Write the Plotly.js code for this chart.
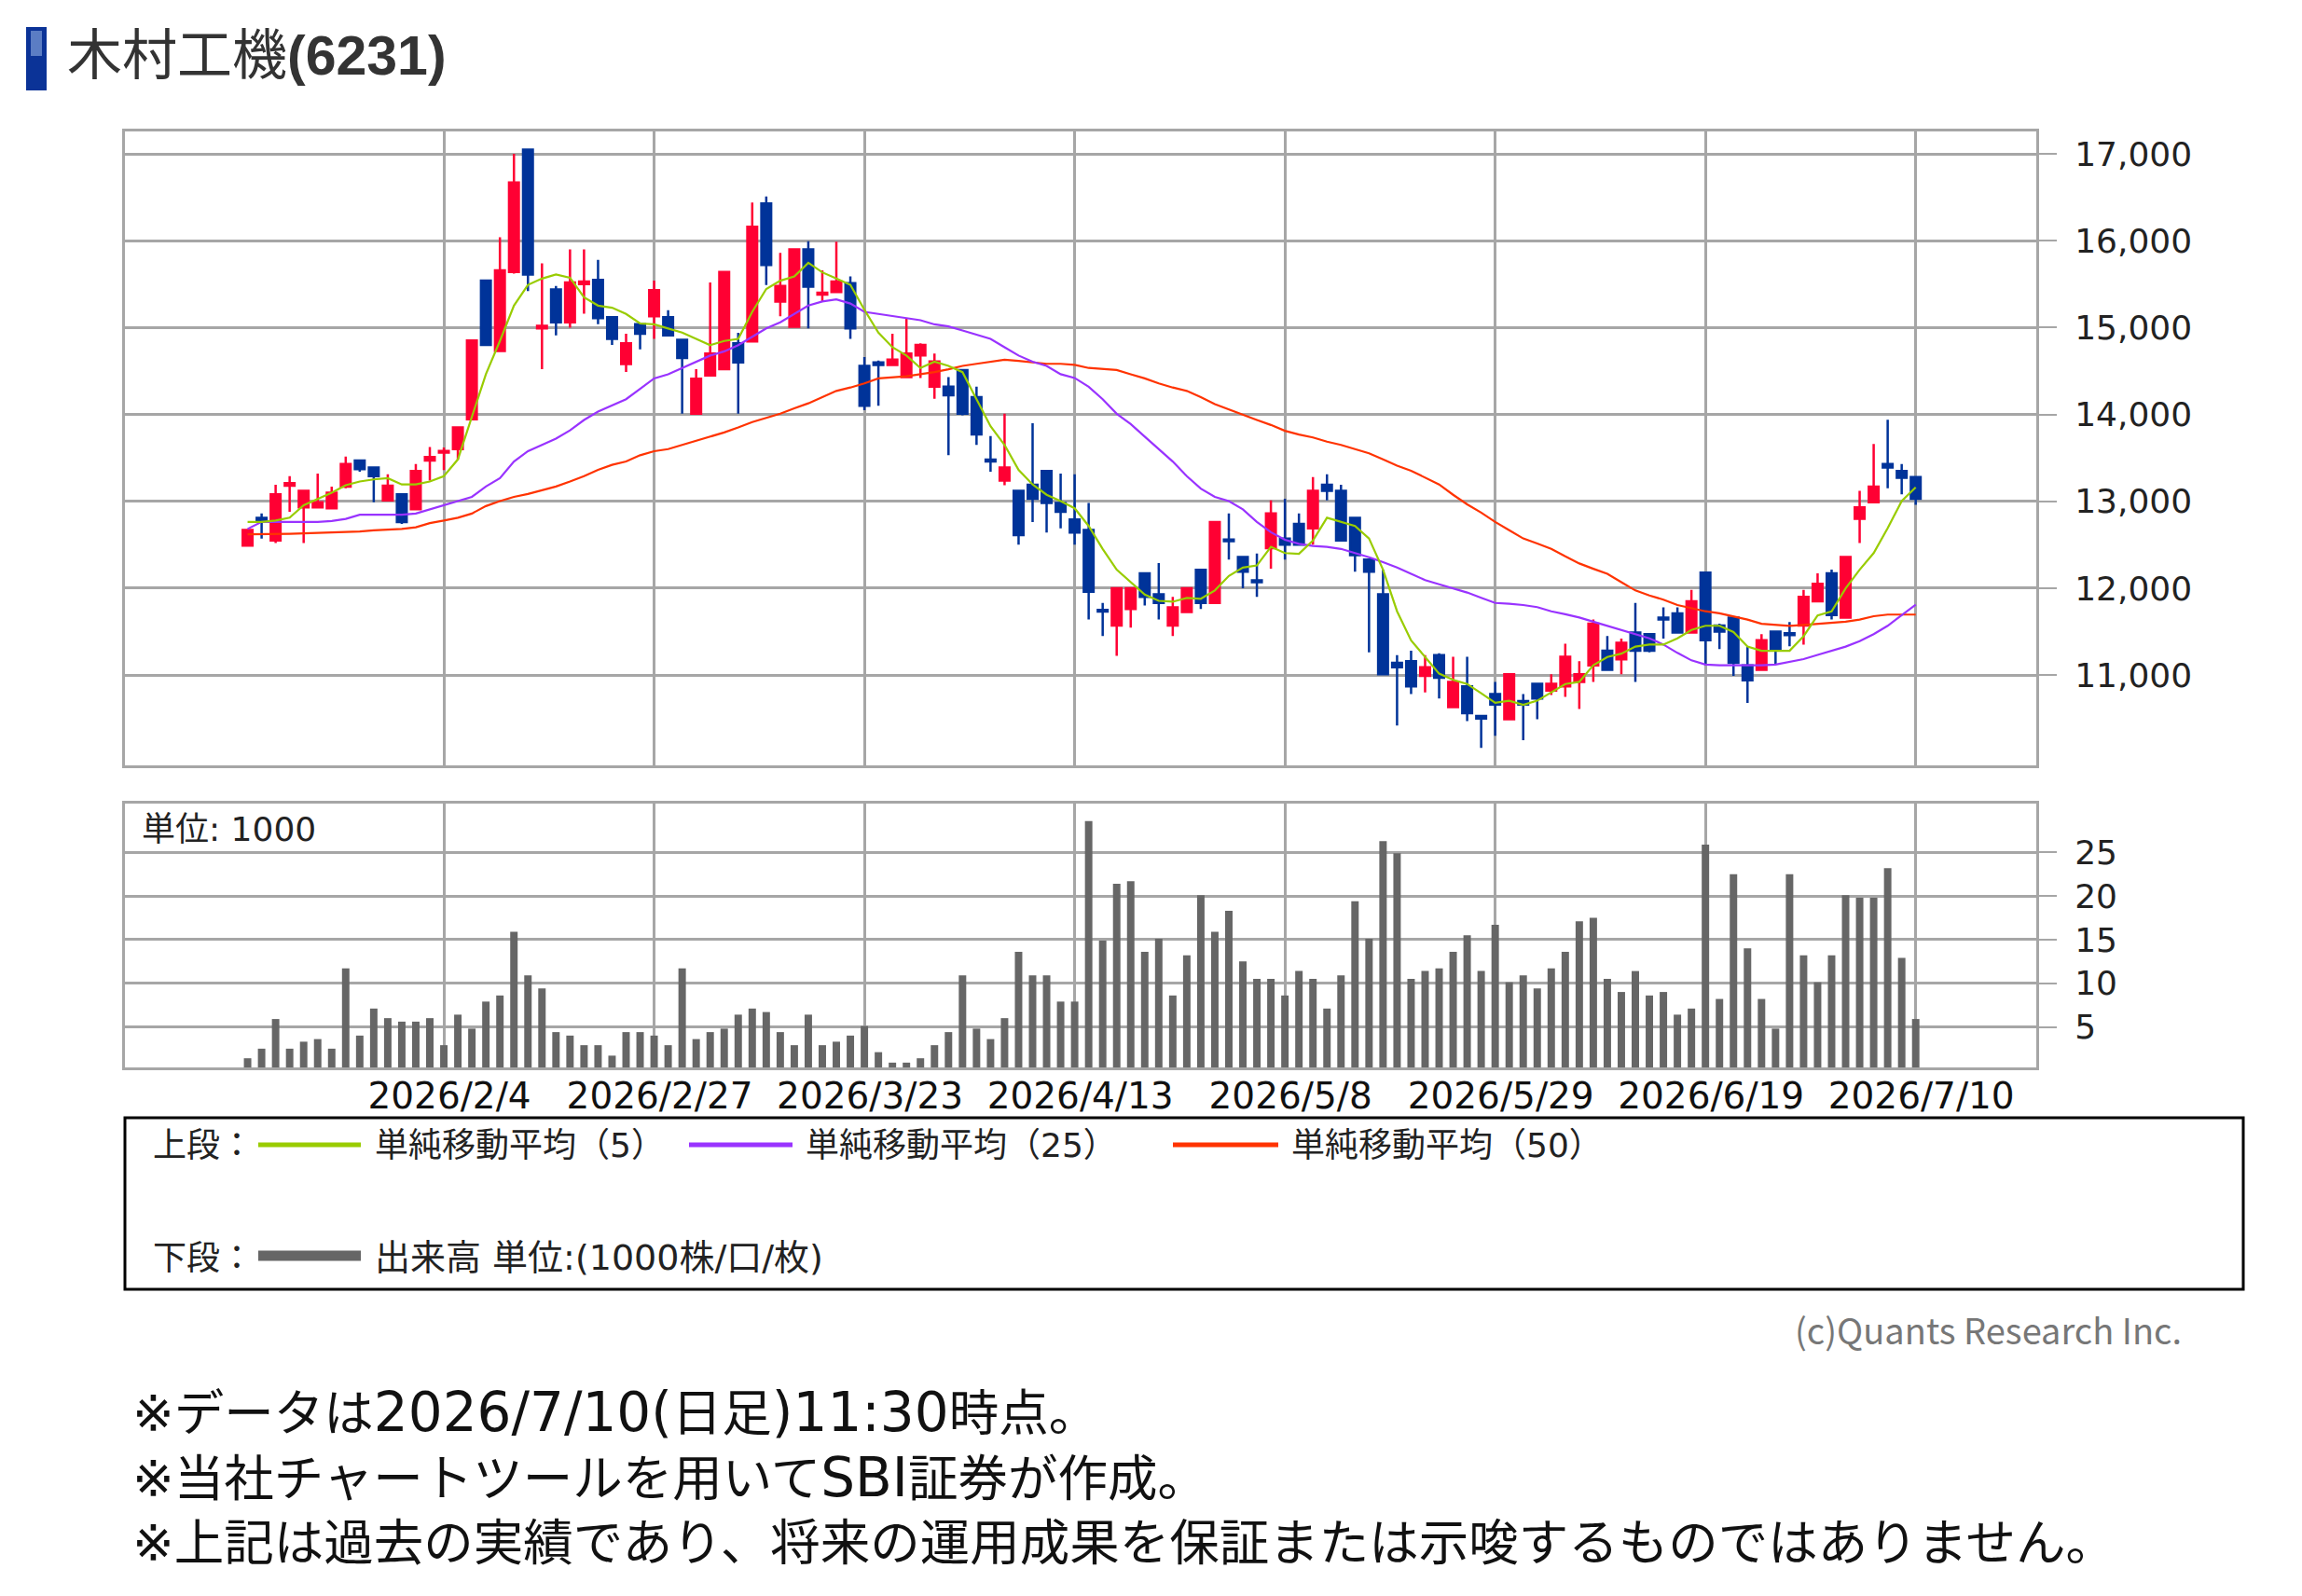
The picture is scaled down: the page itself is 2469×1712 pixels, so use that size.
<!DOCTYPE html>
<html><head><meta charset="utf-8">
<script src="https://cdn.plot.ly/plotly-3.0.1.min.js"></script>
<style>html,body{margin:0;padding:0;background:#fff;}#chart{width:2469px;height:1712px;}</style>
</head><body><div id="chart"></div>
<script>
// ---- data ----
const dates = [
'2026-01-15','2026-01-16','2026-01-19','2026-01-20','2026-01-21','2026-01-22','2026-01-23','2026-01-26','2026-01-27','2026-01-28',
'2026-01-29','2026-01-30','2026-02-02','2026-02-03','2026-02-04','2026-02-05','2026-02-06','2026-02-09','2026-02-10','2026-02-12',
'2026-02-13','2026-02-16','2026-02-17','2026-02-18','2026-02-19','2026-02-20','2026-02-24','2026-02-25','2026-02-26','2026-02-27',
'2026-03-02','2026-03-03','2026-03-04','2026-03-05','2026-03-06','2026-03-09','2026-03-10','2026-03-11','2026-03-12','2026-03-13',
'2026-03-16','2026-03-17','2026-03-18','2026-03-19','2026-03-23','2026-03-24','2026-03-25','2026-03-26','2026-03-27','2026-03-30',
'2026-03-31','2026-04-01','2026-04-02','2026-04-03','2026-04-06','2026-04-07','2026-04-08','2026-04-09','2026-04-10','2026-04-13',
'2026-04-14','2026-04-15','2026-04-16','2026-04-17','2026-04-20','2026-04-21','2026-04-22','2026-04-23','2026-04-24','2026-04-27',
'2026-04-28','2026-04-30','2026-05-01','2026-05-07','2026-05-08','2026-05-11','2026-05-12','2026-05-13','2026-05-14','2026-05-15',
'2026-05-18','2026-05-19','2026-05-20','2026-05-21','2026-05-22','2026-05-25','2026-05-26','2026-05-27','2026-05-28','2026-05-29',
'2026-06-01','2026-06-02','2026-06-03','2026-06-04','2026-06-05','2026-06-08','2026-06-09','2026-06-10','2026-06-11','2026-06-12',
'2026-06-15','2026-06-16','2026-06-17','2026-06-18','2026-06-19','2026-06-22','2026-06-23','2026-06-24','2026-06-25','2026-06-26',
'2026-06-29','2026-06-30','2026-07-01','2026-07-02','2026-07-03','2026-07-06','2026-07-07','2026-07-08','2026-07-09','2026-07-10'];

const openP = [
12490,12810,12550,13180,12930,12930,12920,13170,13470,13390,13010,13080,12910,13470,13560,13600,13945,15540,14730,15640,
17050,14990,15440,15060,15500,15550,15120,14580,15040,15130,15120,14860,14010,14450,14520,14820,14840,16430,15300,15010,
15900,15380,15410,15510,14560,14600,14570,14430,14680,14320,14320,14510,14200,13480,13240,13120,13190,13350,12980,12790,
12670,11750,11570,11760,12170,11930,11570,11725,12210,11830,12560,12360,12090,12460,12570,12740,12690,13190,13120,12810,
12330,11930,11140,11160,10990,11230,10630,10870,10530,10780,10490,10700,10900,10820,10870,10920,11110,11280,11180,11490,
11470,11660,11710,11490,12180,11570,11660,11110,11060,11500,11480,11570,11850,12170,11660,12800,12990,13430,13350,13280];
const highP = [
12680,12860,13190,13290,13130,13320,13170,13515,13470,13390,13310,13090,13430,13625,13620,13860,14860,15540,16040,17000,
17050,15740,15480,15900,15900,15780,15130,14930,15050,15540,15200,14860,14520,15520,15640,14940,16440,16510,15860,15900,
15995,15660,15990,15590,14660,14620,14930,15110,14820,14700,14430,14520,14320,13750,14010,13125,13900,13360,13320,13310,
12980,11830,12000,12010,12170,12290,11900,12010,12210,12770,12860,12360,12400,13010,13030,12860,13280,13310,13190,12820,
12340,12210,11230,11280,11230,11250,11210,11210,10540,10920,11020,10780,10900,11010,11360,11160,11640,11450,11420,11830,
11480,11780,11780,11980,12190,11590,11670,11330,11470,11510,11610,11980,12170,12215,12360,13120,13660,13940,13430,13290];
const lowP = [
12480,12570,12520,12880,12520,12920,12910,13150,13340,12990,13000,12740,12900,13240,13360,13480,13940,14800,14720,15620,
15420,14520,14910,15000,15160,15040,14800,14490,14750,14870,14900,14010,14000,14440,14520,14010,14830,15490,15130,15010,
14990,15300,15400,14870,14050,14100,14560,14420,14420,14180,13530,13990,13650,13340,13185,12500,12760,12640,12690,12500,
11640,11450,11220,11545,11800,11640,11450,11720,11760,11820,12330,12000,11900,12225,12330,12490,12500,13010,12540,12190,
11260,11000,10420,10780,10800,10730,10620,10470,10160,10300,10480,10250,10490,10770,10750,10610,10920,11060,11010,10920,
11260,11420,11490,11490,11110,11300,10990,10680,11050,11130,11330,11350,11850,11640,11660,12520,12980,13150,13080,12960];
const closeP = [
12670,12770,13080,13210,13120,12990,13100,13430,13370,13290,13180,12760,13350,13510,13580,13850,14850,14800,15660,16670,
15610,15020,15060,15520,15530,15110,14870,14820,14930,15430,14910,14650,14410,14700,15640,14600,16160,15720,15480,15900,
15470,15400,15530,14990,14100,14570,14630,14700,14800,14610,14220,14010,13770,13460,13390,12610,13030,12980,12880,12640,
11960,11730,12000,12000,11900,11830,11780,12000,11830,12760,12540,12190,12070,12860,12500,12500,13120,13120,12550,12380,
12190,11010,11090,10870,11090,10970,10920,10560,10500,10660,11010,10660,10730,10900,11210,11010,11590,11060,11370,11280,
11280,11640,11490,11850,11400,11500,11140,10940,11400,11300,11460,11900,12050,11690,12360,12930,13170,13390,13270,13030];

const ma5 = [
12763,12763,12778,12811,12955,13027,13099,13185,13228,13252,13266,13194,13194,13228,13290,13482,13984,14463,14846,15253,
15492,15564,15612,15574,15349,15253,15229,15157,15047,15037,14989,14942,14870,14798,14846,14870,15181,15444,15540,15588,
15746,15636,15564,15492,15205,14942,14774,14678,14535,14607,14559,14487,14176,13865,13649,13362,13194,13075,13003,12920,
12716,12452,12213,12069,11926,11854,11844,11887,11878,11974,12141,12237,12261,12476,12404,12395,12548,12811,12763,12716,
12572,12213,11734,11399,11208,11016,10945,10897,10790,10681,10705,10657,10705,10801,10897,10921,11112,11208,11246,11327,
11351,11351,11423,11519,11567,11567,11495,11327,11279,11279,11279,11447,11686,11734,11998,12213,12404,12691,13003,13161];
const ma25 = [
12682,12763,12763,12763,12763,12763,12773,12797,12845,12845,12845,12845,12859,12907,12955,13003,13051,13170,13266,13458,
13577,13649,13721,13817,13936,14032,14104,14176,14295,14415,14463,14535,14607,14678,14726,14798,14894,14990,15061,15157,
15253,15301,15325,15277,15181,15157,15133,15109,15085,15037,15013,14966,14918,14870,14774,14678,14607,14559,14463,14420,
14319,14176,14008,13889,13745,13601,13458,13290,13146,13051,13003,12907,12763,12644,12557,12510,12486,12476,12452,12404,
12356,12299,12237,12165,12093,12045,11998,11950,11890,11830,11820,11806,11782,11734,11700,11662,11614,11566,11518,11470,
11423,11351,11255,11169,11121,11112,11112,11112,11112,11121,11150,11183,11231,11279,11327,11390,11471,11567,11686,11810];
const ma50 = [
12620,12620,12620,12625,12630,12635,12640,12644,12653,12665,12675,12682,12701,12749,12778,12811,12859,12945,13003,13051,
13084,13123,13170,13228,13290,13362,13420,13458,13530,13577,13601,13649,13697,13745,13793,13850,13912,13960,14008,14070,
14128,14200,14271,14310,14358,14415,14425,14439,14463,14487,14520,14559,14583,14607,14630,14616,14597,14583,14583,14570,
14535,14520,14511,14463,14415,14358,14310,14271,14200,14119,14056,13994,13936,13879,13812,13769,13735,13687,13649,13601,
13553,13482,13410,13352,13276,13194,13075,12965,12870,12763,12668,12572,12514,12452,12366,12285,12223,12165,12069,11974,
11916,11868,11806,11773,11734,11710,11677,11638,11590,11580,11566,11576,11590,11600,11614,11638,11677,11696,11696,11696];

const volume = [
1.4,2.5,5.9,2.5,3.3,3.6,2.5,11.7,4.0,7.1,6.0,5.6,5.6,6.0,2.9,6.4,4.8,7.9,8.6,15.9,
10.9,9.4,4.4,4.0,2.9,2.9,1.7,4.4,4.4,4.0,2.9,11.7,3.6,4.4,4.8,6.4,7.1,6.7,4.4,2.9,
6.4,2.9,3.3,4.0,5.1,2.1,0.9,0.9,1.4,2.9,4.4,10.9,4.8,3.6,6.0,13.6,10.9,10.9,7.9,7.9,
28.6,14.9,21.4,21.7,13.6,15.1,8.6,13.2,20.1,15.9,18.3,12.5,10.5,10.5,8.6,11.4,10.5,7.1,10.9,19.4,
15.1,26.3,24.9,10.5,11.4,11.7,13.6,15.5,11.4,16.7,10.1,10.9,9.4,11.7,13.6,17.1,17.5,10.5,9.0,11.4,
8.6,9.0,6.4,7.1,25.9,8.2,22.5,14.0,8.2,4.8,22.5,13.2,10.1,13.2,20.1,19.8,19.8,23.2,12.9,5.9];

const tickDates = ['2026-02-04','2026-02-27','2026-03-23','2026-04-13','2026-05-08','2026-05-29','2026-06-19','2026-07-10'];
const tickLabels = ['2026/2/4','2026/2/27','2026/3/23','2026/4/13','2026/5/8','2026/5/29','2026/6/19','2026/7/10'];
const priceTicks = [11000,12000,13000,14000,15000,16000,17000];
const volTicks = [5,10,15,20,25];

const footnotes = [
  '※データは2026/7/10(日足)11:30時点。',
  '※当社チャートツールを用いてSBI証券が作成。',
  '※上記は過去の実績であり、将来の運用成果を保証または示唆するものではありません。'
];

// ---- layout helpers ----
const W = 2469, H = 1712;
const px = x => x / W;
const py = y => 1 - y / H;

const GRID = '#a6a6a6';
const xDomain = [px(134), px(2184)];
const xRange = [-8.75, 127.6];

const traces = [
  {type:'candlestick', x:dates, open:openP, high:highP, low:lowP, close:closeP,
   xaxis:'x', yaxis:'y', whiskerwidth:0, hoverinfo:'none',
   increasing:{line:{color:'#ff0033', width:2.5}, fillcolor:'#ff0033'},
   decreasing:{line:{color:'#003399', width:2.5}, fillcolor:'#003399'}},
  {type:'scatter', mode:'lines', x:dates, y:ma50, xaxis:'x', yaxis:'y', line:{color:'#ff3300', width:2.2}, hoverinfo:'skip'},
  {type:'scatter', mode:'lines', x:dates, y:ma25, xaxis:'x', yaxis:'y', line:{color:'#9933ff', width:2.2}, hoverinfo:'skip'},
  {type:'scatter', mode:'lines', x:dates, y:ma5, xaxis:'x', yaxis:'y', line:{color:'#99cc00', width:2.2}, hoverinfo:'skip'},
  {type:'bar', x:dates, y:volume, xaxis:'x2', yaxis:'y2', marker:{color:'#666666', line:{width:0}}, hoverinfo:'skip'}
];

const axisCommonX = {
  type:'category', domain:xDomain, range:xRange, tickvals:tickDates,
  showgrid:true, gridcolor:GRID, gridwidth:3, zeroline:false,
  showline:true, mirror:true, linecolor:GRID, linewidth:3, ticks:'', ticklen:0, fixedrange:true
};
const axisCommonY = {
  side:'right', showgrid:true, gridcolor:GRID, gridwidth:3, zeroline:false,
  showline:true, mirror:true, linecolor:GRID, linewidth:3,
  ticks:'outside', ticklen:19, tickwidth:2, tickcolor:GRID,
  tickfont:{family:'DejaVu Sans', size:36, color:'#222'}, ticklabelstandoff:12, fixedrange:true
};

const legendFont = {family:'DejaVu Sans, Noto Sans CJK JP', size:36, color:'#222'};
const ann = (x, y, text, font, xanchor) => ({xref:'paper', yref:'paper', x:px(x), y:py(y), text, font, xanchor:xanchor||'left', yanchor:'middle', showarrow:false});

// Latin runs in the footnotes are drawn a little larger, as in the reference
const footText = footnotes.map(s => s.replace(/[\x20-\x7E]+/g, m => '<span style="font-size:58px">' + m + '</span>')).join('<br>');
const footAnn = ann(140, 1584, footText, {family:'DejaVu Sans, Noto Sans CJK JP', size:53.5, color:'#111'});
footAnn.align = 'left';

const layout = {
  width:W, height:H, margin:{l:0,r:0,t:0,b:0}, paper_bgcolor:'#fff', plot_bgcolor:'#fff',
  showlegend:false, boxgap:0.3, boxgroupgap:0, bargap:0.47,
  xaxis: Object.assign({}, axisCommonX, {anchor:'y', showticklabels:false, rangeslider:{visible:false}}),
  yaxis: Object.assign({}, axisCommonY, {anchor:'x', domain:[py(821), py(141)], range:[9960, 17258], tickvals:priceTicks, tickformat:',d'}),
  xaxis2: Object.assign({}, axisCommonX, {anchor:'y2', ticktext:tickLabels, showticklabels:true,
    tickfont:{family:'DejaVu Sans', size:39, color:'#111'}, ticklabelstandoff:-6, ticklabelshift:6, rangeslider:{visible:false}}),
  yaxis2: Object.assign({}, axisCommonY, {anchor:'x2', domain:[py(1145), py(862)], range:[0.35, 30.6], tickvals:volTicks}),
  shapes:[
    {type:'rect', xref:'paper', yref:'paper', x0:px(28), x1:px(50), y0:py(97), y1:py(29), fillcolor:'#0b3397', line:{width:0}},
    {type:'rect', xref:'paper', yref:'paper', x0:px(33), x1:px(45), y0:py(60), y1:py(33), fillcolor:'#5b7dc4', line:{width:0}},
    {type:'rect', xref:'paper', yref:'paper', x0:px(134), x1:px(2406), y0:py(1383), y1:py(1199), line:{color:'#000', width:3}},
    {type:'line', xref:'paper', yref:'paper', x0:px(277), x1:px(387), y0:py(1228), y1:py(1228), line:{color:'#99cc00', width:5}},
    {type:'line', xref:'paper', yref:'paper', x0:px(739), x1:px(850), y0:py(1228), y1:py(1228), line:{color:'#9933ff', width:5}},
    {type:'line', xref:'paper', yref:'paper', x0:px(1258), x1:px(1371), y0:py(1228), y1:py(1228), line:{color:'#ff3300', width:5}},
    {type:'line', xref:'paper', yref:'paper', x0:px(277), x1:px(387), y0:py(1347), y1:py(1347), line:{color:'#666666', width:11}}
  ],
  annotations:[
    ann(70, 60, '木村工機<b>(6231)</b>', {family:'Liberation Sans, Noto Sans CJK JP', size:59, color:'#333'}),
    ann(150, 890, '単位: 1000', {family:'DejaVu Sans, Noto Sans CJK JP', size:36, color:'#222'}),
    ann(162, 1228, '上段：', legendFont),
    ann(400, 1228, '単純移動平均（5）', legendFont),
    ann(862, 1228, '単純移動平均（25）', legendFont),
    ann(1383, 1228, '単純移動平均（50）', legendFont),
    ann(162, 1349, '下段：', legendFont),
    ann(400, 1349, '出来高 単位:(1000株/口/枚)', {family:'DejaVu Sans, Noto Sans CJK JP', size:38, color:'#222'}),
    ann(2342, 1425, '(c)Quants Research Inc.', {family:'Noto Sans CJK JP', size:38, color:'#777'}, 'right'),
    footAnn
  ]
};

Plotly.newPlot('chart', traces, layout, {staticPlot:true, displayModeBar:false});
</script>
</body></html>
